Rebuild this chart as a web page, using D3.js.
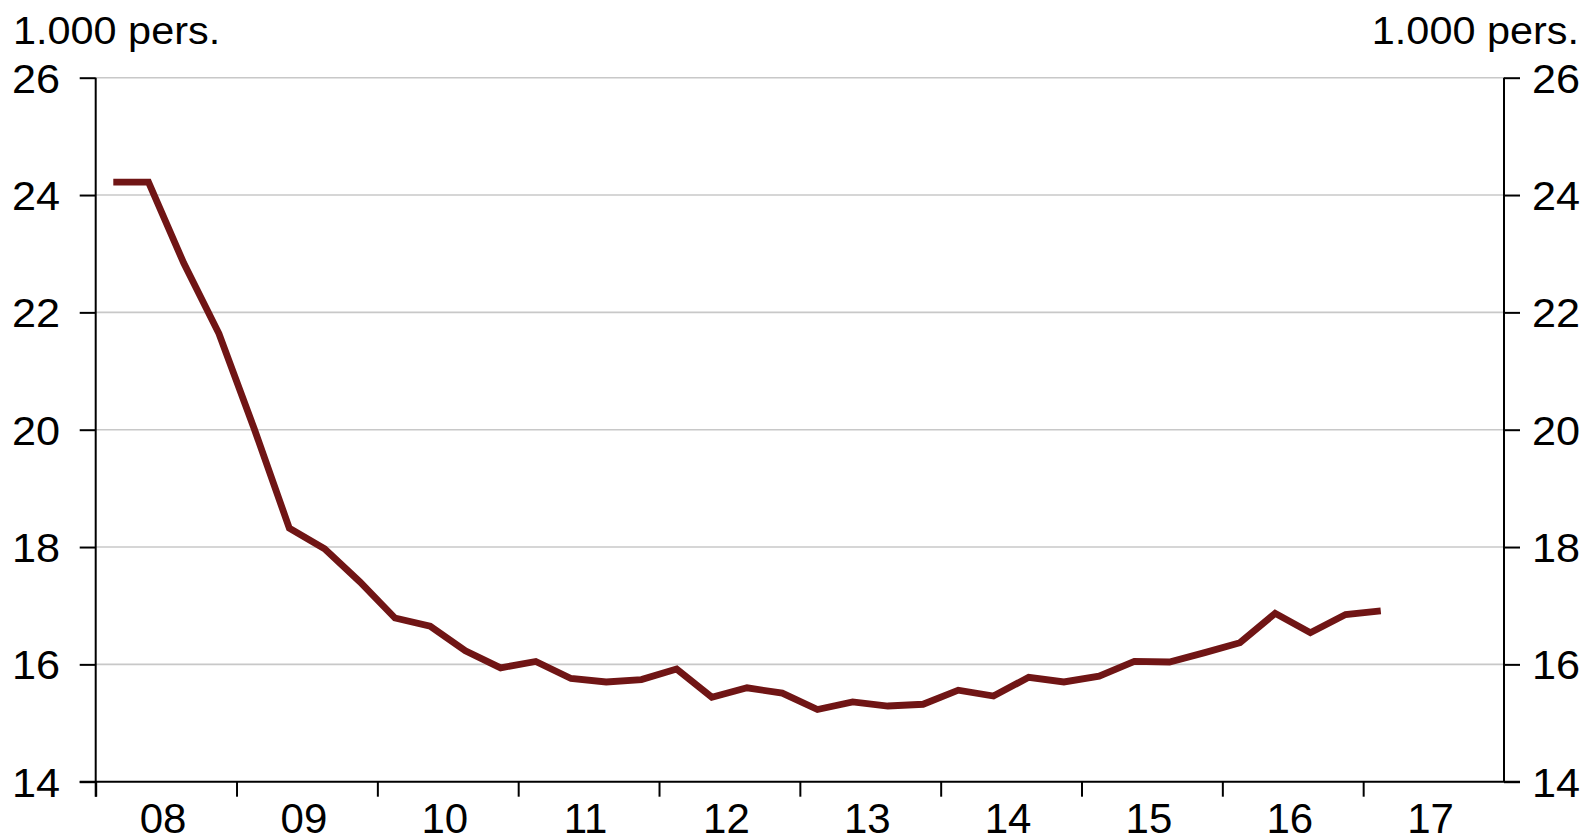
<!DOCTYPE html>
<html>
<head>
<meta charset="utf-8">
<script src="https://cdn.jsdelivr.net/npm/d3@7/dist/d3.min.js"></script>
<style>
  html, body { margin: 0; padding: 0; background: #fff; }
  svg { display: block; }
  text { font-family: "Liberation Sans", Arial, sans-serif; fill: #000; }
</style>
</head>
<body>
<svg id="chart" width="1586" height="838"></svg>
<script>
// ---- Data ----
const unitLabel = "1.000 pers.";
const yTicks = [14, 16, 18, 20, 22, 24, 26];
const yearTicks = [2008, 2009, 2010, 2011, 2012, 2013, 2014, 2015, 2016, 2017, 2018];
const yearLabels = ["08", "09", "10", "11", "12", "13", "14", "15", "16", "17"];
const quarters = [
  "2008Q1","2008Q2","2008Q3","2008Q4",
  "2009Q1","2009Q2","2009Q3","2009Q4",
  "2010Q1","2010Q2","2010Q3","2010Q4",
  "2011Q1","2011Q2","2011Q3","2011Q4",
  "2012Q1","2012Q2","2012Q3","2012Q4",
  "2013Q1","2013Q2","2013Q3","2013Q4",
  "2014Q1","2014Q2","2014Q3","2014Q4",
  "2015Q1","2015Q2","2015Q3","2015Q4",
  "2016Q1","2016Q2","2016Q3","2016Q4",
  "2017Q1"
];
const values = [
  24.22, 24.22, 22.84, 21.64,
  20.02, 18.32, 17.97, 17.41,
  16.79, 16.65, 16.23, 15.94,
  16.05, 15.76, 15.70, 15.74,
  15.92, 15.44, 15.60, 15.51,
  15.23, 15.36, 15.29, 15.32,
  15.56, 15.46, 15.78, 15.70,
  15.80, 16.05, 16.04, 16.20,
  16.37, 16.87, 16.54, 16.85,
  16.91
];

// ---- Layout ----
const svg = d3.select("#chart");
const plotLeft = 95.7, plotRight = 1504, plotTop = 77.7, plotBottom = 781.7;
const lineColor = "#701515";

const x = d3.scaleLinear().domain([2008, 2018]).range([plotLeft, plotRight]);
const y = d3.scaleLinear().domain([14, 26]).range([plotBottom, plotTop]);

const qPos = q => {
  const yr = +q.slice(0, 4), qi = +q.slice(5) - 1;
  return yr + (qi + 0.5) / 4;
};
const data = quarters.map((q, i) => ({ t: qPos(q), v: values[i] }));

// gridlines
svg.append("g").selectAll("line")
  .data(yTicks.filter(d => d > 14))
  .join("line")
  .attr("x1", plotLeft).attr("x2", plotRight)
  .attr("y1", d => y(d)).attr("y2", d => y(d))
  .attr("stroke", "#c8c8c8").attr("stroke-width", 1.6);

// left axis
const axL = svg.append("g").attr("transform", `translate(${plotLeft},0)`)
  .call(d3.axisLeft(y).tickValues(yTicks).tickSize(16).tickFormat(""));
axL.select(".domain").attr("stroke", "#000").attr("stroke-width", 2).attr("d", `M0,${plotTop}V${plotBottom + 15}`);
axL.selectAll(".tick line").attr("stroke", "#000").attr("stroke-width", 2);

// right axis
const axR = svg.append("g").attr("transform", `translate(${plotRight},0)`)
  .call(d3.axisRight(y).tickValues(yTicks).tickSize(16).tickFormat(""));
axR.select(".domain").attr("stroke", "#000").attr("stroke-width", 2).attr("d", `M0,${plotTop}V${plotBottom}`);
axR.selectAll(".tick line").attr("stroke", "#000").attr("stroke-width", 2);

// bottom axis
const axB = svg.append("g").attr("transform", `translate(0,${plotBottom})`)
  .call(d3.axisBottom(x).tickValues(yearTicks.slice(0, -1)).tickSize(15).tickFormat(""));
axB.select(".domain").attr("stroke", "#000").attr("stroke-width", 2).attr("d", `M${plotLeft - 16},0H${plotRight + 16}`);
axB.selectAll(".tick line").attr("stroke", "#000").attr("stroke-width", 2);

// text helper
function label(g, tx, ty, txt, anchor, size, stretch) {
  g.append("text")
    .attr("transform", `translate(${tx},${ty}) scale(${stretch},1)`)
    .attr("text-anchor", anchor)
    .attr("font-size", size)
    .text(txt);
}

const tg = svg.append("g");
yTicks.forEach(d => {
  label(tg, 60, y(d) + 15, d, "end", 40, 1.08);
  label(tg, 1532, y(d) + 15, d, "start", 40, 1.08);
});
yearLabels.forEach((l, i) => {
  const c = (x(yearTicks[i]) + x(yearTicks[i + 1])) / 2 - 3;
  label(tg, c, 833, l, "middle", 42, 1.0);
});
label(tg, 13, 44, unitLabel, "start", 38, 1.09);
label(tg, 1579, 44, unitLabel, "end", 38, 1.09);

// line
svg.append("path")
  .datum(data)
  .attr("fill", "none")
  .attr("stroke", lineColor)
  .attr("stroke-width", 6.8)
  .attr("stroke-linejoin", "miter")
  .attr("d", d3.line().x(d => x(d.t)).y(d => y(d.v)));
</script>
</body>
</html>
